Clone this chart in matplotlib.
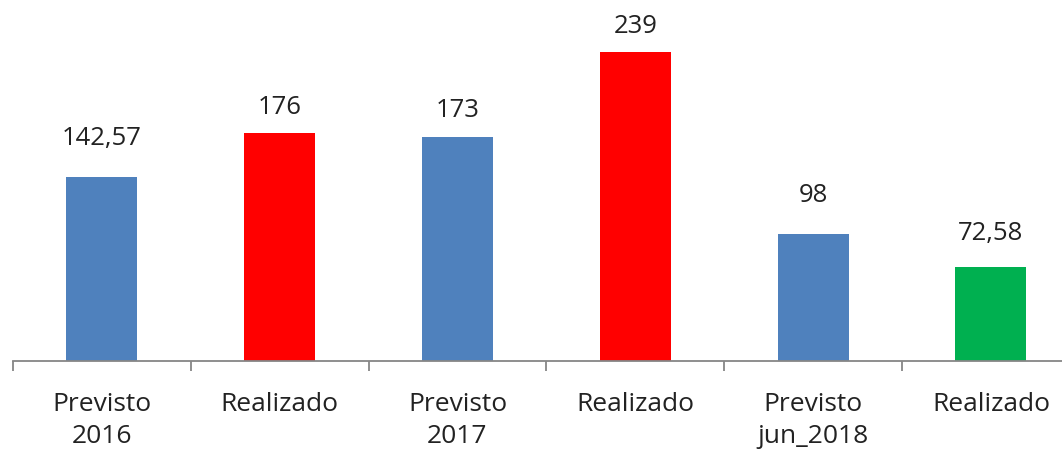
import matplotlib
matplotlib.use("Agg")
import matplotlib.pyplot as plt
import numpy as np

categories = ["Previsto\n2016", "Realizado", "Previsto\n2017", "Realizado", "Previsto\njun_2018", "Realizado"]
values = [142.57, 176, 173, 239, 98, 72.58]
value_labels = ["142,57", "176", "173", "239", "98", "72,58"]
colors = ["#4F81BD", "#FF0000", "#4F81BD", "#FF0000", "#4F81BD", "#00B050"]

# label placement (points above bar top to text baseline), style only
label_offsets_pt = [23, 13.7, 14.4, 13.7, 23, 19.4]

plt.rcParams['font.family'] = ['Open Sans', 'DejaVu Sans']

W, H = 1062, 451
fig = plt.figure(figsize=(W / 100, H / 100), dpi=100)
left_px, right_px = 13, 13 + 6 * 177.8
axis_y = 361
ax = fig.add_axes([left_px / W, (H - axis_y) / H, (right_px - left_px) / W, axis_y / H])

x = np.arange(len(values))
ax.bar(x, values, width=0.40, color=colors, zorder=2)
ax.set_xlim(-0.5, len(values) - 0.5)
ax.set_ylim(0, 279.2)

for xi, v, lab, off in zip(x, values, value_labels, label_offsets_pt):
    ax.annotate(lab, (xi, v), xytext=(0, off), textcoords="offset points",
                ha="center", va="baseline", fontsize=18.5, color="#222222")

for s in ["top", "left", "right"]:
    ax.spines[s].set_visible(False)
ax.spines["bottom"].set_color("#868686")
ax.spines["bottom"].set_linewidth(1.3)
ax.set_yticks([])

ax.set_xticks(x)
ax.set_xticklabels(categories, fontsize=19, color="#222222", linespacing=1.38)
ax.tick_params(axis="x", which="major", length=0, pad=22.5)
ax.set_xticks(np.arange(-0.5, len(values)), minor=True)
ax.tick_params(axis="x", which="minor", length=7.5, width=1.3, color="#868686", direction="out")

fig.savefig("out.png", dpi=100)
